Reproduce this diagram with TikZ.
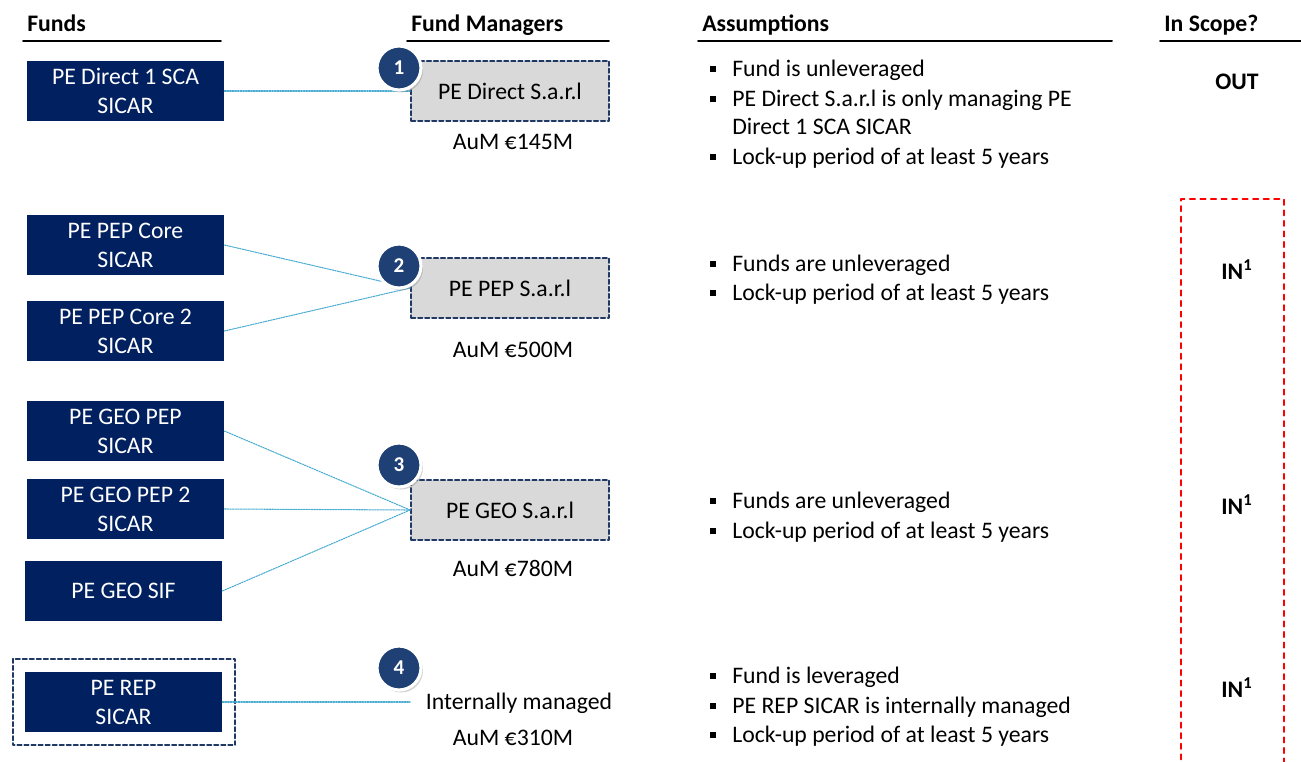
\documentclass[tikz,border=0pt]{standalone}
\usepackage{fontspec}
\setmainfont{Carlito}
\usetikzlibrary{shadows}
\definecolor{navy}{RGB}{0,32,96}
\definecolor{numblue}{RGB}{31,64,116}
\definecolor{mgrgray}{RGB}{217,217,217}
\definecolor{mgrline}{RGB}{31,56,100}
\definecolor{linkblue}{RGB}{75,172,210}

\begin{document}
\begin{tikzpicture}[x=0.02cm, y=-0.02cm, line cap=round, line join=round,
    font=\fontsize{13.5}{16.5}\selectfont,
    fund/.style={fill=navy, text=white, minimum width=3.94cm, minimum height=1.2cm, inner sep=0pt, align=center},
    mgr/.style={fill=mgrgray, draw=mgrline, dash pattern=on 2.5pt off 1.5pt, line width=1pt, minimum width=3.96cm, minimum height=1.2cm, inner sep=0pt},
    num/.style={circle, fill=numblue, draw=white, line width=1.8pt, text=white, minimum size=0.88cm, inner sep=0pt,
        font=\bfseries\fontsize{12}{12}\selectfont, drop shadow={opacity=0.35, shadow xshift=0.04cm, shadow yshift=-0.05cm}},
    link/.style={draw=linkblue, dash pattern=on 0.9pt off 0.6pt, line width=0.6pt},
    head/.style={anchor=base west, inner sep=0pt, font=\bfseries\fontsize{13.5}{16.5}\selectfont},
    item/.style={anchor=base west, inner sep=0pt},
    bul/.style={fill=black, minimum size=0.13cm, inner sep=0pt},
    scope/.style={font=\bfseries\fontsize{13.5}{16.5}\selectfont}]
    \useasboundingbox (0,0) rectangle (1301,761);

    % column headers
    \foreach \x/\xe/\txt [count=\i] in {27/221/Funds, 411/609/Fund Managers, 702/1112/Assumptions, 1164/1301/In Scope?}{
        \node[head] (h\i) at (\x,31) {\txt};
        \draw[line width=1.1pt] (\x-4,41) -- (\xe,41);
    }

    % funds
    \node[fund] (direct) at (125.5,91) {PE Direct 1 SCA\\SICAR};
    \node[fund] (core) at (125.5,245) {PE PEP Core\\SICAR};
    \node[fund] (coretwo) at (125.5,331) {PE PEP Core 2\\SICAR};
    \node[fund] (geo) at (125.5,431) {PE GEO PEP\\SICAR};
    \node[fund] (geotwo) at (125.5,509) {PE GEO PEP 2\\SICAR};
    \node[fund] (sif) at (123.5,591) {PE GEO SIF};
    \node[fund] (rep) at (123.5,702) {PE REP\\SICAR};
    \draw[mgrline, dash pattern=on 2.5pt off 1.5pt, line width=1pt] ([shift={(-12,-13)}]rep.north west) rectangle ([shift={(13,13)}]rep.south east);

    % fund managers
    \node[mgr] (mdirect) at (510,91) {PE Direct S.a.r.l};
    \node[mgr] (mpep) at (510,288) {PE PEP S.a.r.l};
    \node[mgr] (mgeo) at (510,510) {PE GEO S.a.r.l};
    \node (aum1) at (513,142) {AuM €145M};
    \node (aum2) at (513,350) {AuM €500M};
    \node (aum3) at (513,568) {AuM €780M};
    \node (intern) at (519,703) {Internally managed};
    \node (aum4) at (513,738) {AuM €310M};
    \coordinate (repend) at (410,702);

    % links
    \draw[link] (direct.east) -- (mdirect.west);
    \foreach \f in {core, coretwo}
        \draw[link] (\f.east) -- (mpep.west);
    \foreach \f in {geo, geotwo, sif}
        \draw[link] (\f.east) -- (mgeo.west);
    \draw[link] (rep.east) -- (repend);

    % numbers
    \foreach \y [count=\i] in {68,266,465,668}
        \node[num] (n\i) at (399,\y) {\i};

    % assumptions
    \foreach \y in {69,99,157,264,293,501,531,676,706,735}
        \node[bul] (b\y) at (713,\y) {};
    \foreach \y/\txt [count=\i] in {69/Fund is unleveraged, 99/PE Direct S.a.r.l is only managing PE,
            127/Direct 1 SCA SICAR, 157/Lock-up period of at least 5 years,
            264/Funds are unleveraged, 293/Lock-up period of at least 5 years,
            501/Funds are unleveraged, 531/Lock-up period of at least 5 years,
            676/Fund is leveraged, 706/PE REP SICAR is internally managed, 735/Lock-up period of at least 5 years}
        \node[item] (a\i) at (732,\y+7.5) {\txt};

    % in scope
    \node[scope] (out) at (1237,82) {OUT};
    \foreach \y [count=\i] in {270,505,688}
        \node[scope] (in\i) at (1237,\y) {IN\textsuperscript{1}};
    \draw[red, dashed, line width=1pt] (1181,770) -- (1181,199) -- (1284,199) -- (1284,770);
\end{tikzpicture}
\end{document}
